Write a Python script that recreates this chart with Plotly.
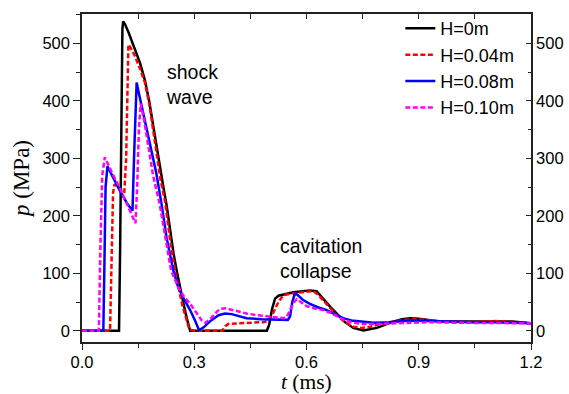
import plotly.graph_objects as go

# ---------------- data ----------------
t_h0 = [0, 0.099, 0.102, 0.105, 0.108, 0.110, 0.115, 0.125, 0.14, 0.155, 0.168, 0.18, 0.191, 0.203, 0.213, 0.22,
        0.226, 0.232, 0.238, 0.245, 0.253, 0.262, 0.271, 0.28, 0.289, 0.494, 0.50, 0.508, 0.516, 0.525, 0.545,
        0.565, 0.59, 0.609, 0.627, 0.645, 0.663, 0.681, 0.703, 0.725, 0.752, 0.788, 0.81, 0.832, 0.855, 0.877,
        0.9, 0.93, 0.957, 1.0, 1.05, 1.1, 1.15, 1.2]
p_h0 = [0, 0, 150, 380, 525, 538, 533, 518, 492, 466, 436, 398, 354, 306, 262, 240,
        219, 190, 162, 133, 105, 75, 48, 22, 0, 0, 10, 38, 56, 61, 64,
        67, 69, 70, 69, 55, 42, 30, 15, 5, 0.5, 5, 11, 16, 20, 22,
        21, 18, 16, 16, 16, 17, 16, 13]

t_h004 = [0, 0.075, 0.079, 0.083, 0.087, 0.095, 0.105, 0.113, 0.118, 0.121, 0.124, 0.13, 0.14, 0.155, 0.168,
          0.18, 0.19, 0.20, 0.21, 0.222, 0.235, 0.25, 0.268, 0.287, 0.30, 0.375, 0.383, 0.391, 0.42, 0.45, 0.485,
          0.497, 0.51, 0.525, 0.538, 0.56, 0.583, 0.605, 0.618, 0.632, 0.645, 0.663, 0.681, 0.703, 0.725, 0.747,
          0.77, 0.80, 0.84, 0.88, 0.92, 0.96, 1.0, 1.05, 1.1, 1.15, 1.2]
p_h004 = [0, 0, 120, 240, 255, 250, 244, 240, 300, 430, 498, 492, 480, 456, 432,
          394, 352, 306, 262, 225, 160, 100, 45, 2, 0, 0, 8, 12, 13, 14, 15,
          17, 30, 50, 62, 65, 67, 69, 69, 62, 53, 40, 27, 15, 7, 5,
          7, 12, 17, 20, 19, 16, 15, 15, 17, 15, 13]

t_h008 = [0, 0.057, 0.060, 0.063, 0.068, 0.08, 0.1, 0.12, 0.135, 0.139, 0.143, 0.146, 0.153, 0.16, 0.173, 0.186,
          0.198, 0.213, 0.226, 0.244, 0.257, 0.27, 0.28, 0.289, 0.302, 0.313, 0.325, 0.345, 0.365, 0.382, 0.40,
          0.42, 0.44, 0.48, 0.529, 0.55, 0.556, 0.562, 0.569, 0.575, 0.59, 0.609, 0.63, 0.654, 0.675, 0.698,
          0.72, 0.743, 0.78, 0.82, 0.86, 0.88, 0.92, 0.96, 1.0, 1.05, 1.1, 1.15, 1.2]
p_h008 = [0, 0, 120, 250, 286, 270, 245, 222, 209, 300, 400, 432, 410, 390, 350, 312,
          276, 219, 162, 105, 76, 58, 47, 36, 18, 1, 6, 18, 27, 30, 29,
          25, 22, 20, 19, 19, 25, 50, 65, 63, 54, 47, 41, 36, 29, 22,
          18, 16, 14, 15, 17, 18, 17, 16, 15, 15, 15, 14, 13]

t_h010 = [0, 0.045, 0.049, 0.054, 0.061, 0.08, 0.1, 0.12, 0.138, 0.143, 0.148, 0.152, 0.157, 0.165, 0.177, 0.19,
          0.208, 0.222, 0.238, 0.257, 0.272, 0.289, 0.305, 0.32, 0.33, 0.345, 0.36, 0.369, 0.385, 0.41, 0.44,
          0.47, 0.494, 0.52, 0.538, 0.547, 0.556, 0.565, 0.574, 0.585, 0.60, 0.62, 0.645, 0.665, 0.681, 0.70,
          0.725, 0.75, 0.787, 0.83, 0.88, 0.93, 1.0, 1.05, 1.1, 1.15, 1.2]
p_h010 = [0, 0, 140, 270, 302, 275, 250, 222, 195, 187, 260, 350, 395, 370, 322, 270,
          219, 162, 105, 76, 60, 47, 32, 18, 14, 22, 33, 38, 39, 35, 30,
          27, 25, 23, 22, 24, 35, 48, 55, 50, 43, 39, 36, 31, 25, 19,
          14, 12, 12, 13, 15, 15, 14, 14, 14, 14, 13]

series_names = ["H=0m", "H=0.04m", "H=0.08m", "H=0.10m"]
x_ticks = [0.0, 0.3, 0.6, 0.9, 1.2]
x_tick_text = ["0.0", "0.3", "0.6", "0.9", "1.2"]
y_ticks = [0, 100, 200, 300, 400, 500]

# ---------------- figure ----------------
colors = ["#000000", "#FF0000", "#0000FF", "#FF00FF"]
dashes = ["solid", "5px,2.5px", "solid", "5px,2.5px"]
xs = [t_h0, t_h004, t_h008, t_h010]
ys = [p_h0, p_h004, p_h008, p_h010]

fig = go.Figure()
for name, x, y, c, d in zip(series_names, xs, ys, colors, dashes):
    fig.add_trace(go.Scatter(x=x, y=y, mode="lines", name=name,
                             line=dict(color=c, width=2.5, dash=d)))

# dummy trace for mirrored (top/right) axes
fig.add_trace(go.Scatter(x=[None], y=[None], xaxis="x2", yaxis="y2",
                         showlegend=False, hoverinfo="skip"))

axis_col = "#222222"
tick_font = dict(family="Liberation Sans, Arial", size=16.5, color="black")

fig.update_layout(
    width=569, height=394,
    margin=dict(l=82, r=38, t=10, b=52),
    paper_bgcolor="white", plot_bgcolor="white",
    showlegend=True,
    legend=dict(x=0.709, y=1.012, xanchor="left", yanchor="top",
                bgcolor="rgba(0,0,0,0)", borderwidth=0, tracegroupgap=0,
                font=dict(family="Liberation Sans, Arial", size=18, color="black")),
    xaxis=dict(range=[0, 1.2], tickvals=x_ticks, ticktext=x_tick_text, automargin=False,
               ticks="outside", ticklen=6, tickwidth=1.3, tickcolor=axis_col, ticklabelstandoff=-2,
               minor=dict(dtick=0.15, ticks="outside", ticklen=4, tickwidth=1.3, tickcolor=axis_col),
               showline=True, linecolor=axis_col, linewidth=1.5, showgrid=False, zeroline=False,
               tickfont=tick_font),
    yaxis=dict(range=[-19.5, 551], tickvals=y_ticks, automargin=False,
               ticks="outside", ticklen=7, tickwidth=1.3, tickcolor=axis_col,
               minor=dict(dtick=50, ticks="outside", ticklen=4, tickwidth=1.3, tickcolor=axis_col),
               showline=True, linecolor=axis_col, linewidth=1.5, showgrid=False, zeroline=False,
               tickfont=tick_font,
               title=dict(text="<i>p</i> (MPa)", standoff=6,
                          font=dict(family="Liberation Serif, Times New Roman", size=23, color="black"))),
    xaxis2=dict(range=[0, 1.2], overlaying="x", side="top", tickvals=x_ticks, automargin=False,
                ticks="inside", ticklen=5, tickwidth=1.3, tickcolor=axis_col,
                minor=dict(dtick=0.15, ticks="inside", ticklen=5, tickwidth=1.3, tickcolor=axis_col),
                showticklabels=False, showline=True, linecolor=axis_col, linewidth=1.5,
                showgrid=False, zeroline=False),
    yaxis2=dict(range=[-19.5, 551], overlaying="y", side="right", tickvals=y_ticks, automargin=False,
                ticks="inside", ticklen=5, tickwidth=1.3, tickcolor=axis_col,
                minor=dict(dtick=50, ticks="inside", ticklen=3, tickwidth=1.3, tickcolor=axis_col),
                showticklabels=True, tickfont=tick_font, showline=True, linecolor=axis_col,
                linewidth=1.5, showgrid=False, zeroline=False),
)

# x-axis title placed as annotation for exact position
fig.add_annotation(x=0.5, y=-0.1205, xref="paper", yref="paper", text="<i>t</i> (ms)",
                   showarrow=False, xanchor="center", yanchor="middle", borderpad=0,
                   font=dict(family="Liberation Serif, Times New Roman", size=21.5, color="black"))

ann_font = dict(family="Liberation Sans, Arial", size=19.5, color="black")
fig.add_annotation(x=0.219, y=472, xref="x", yref="y", text="shock<br>wave",
                   showarrow=False, xanchor="left", yanchor="top", align="left", font=ann_font)
fig.add_annotation(x=0.524, y=170, xref="x", yref="y", text="cavitation<br>collapse",
                   showarrow=False, xanchor="left", yanchor="top", align="left", font=ann_font)

fig.write_html("out.html")
